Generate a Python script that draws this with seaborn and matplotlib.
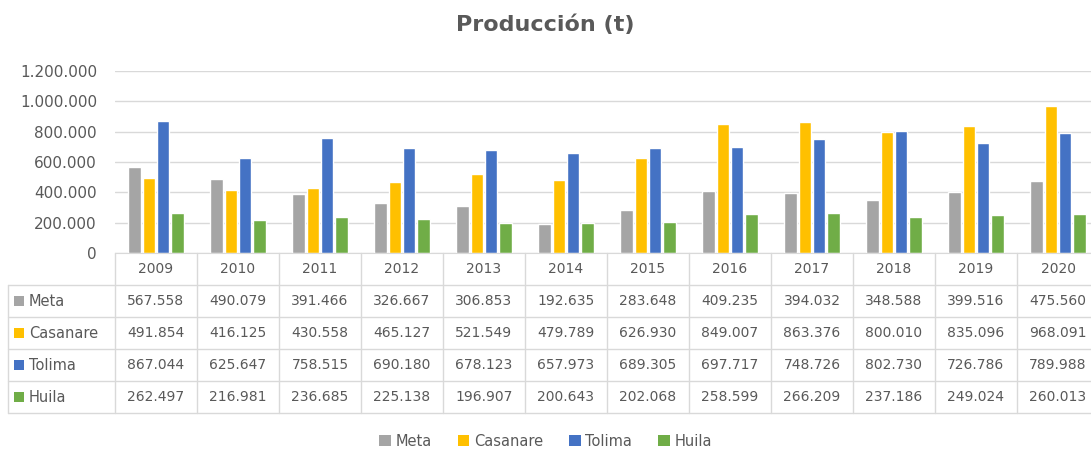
import numpy as np
import pandas as pd
import matplotlib
matplotlib.use('Agg')
import matplotlib.pyplot as plt
import matplotlib.transforms as mtransforms
from matplotlib.patches import Patch, Rectangle
from matplotlib.lines import Line2D
from matplotlib.ticker import FuncFormatter
import seaborn as sns

years = ['2009', '2010', '2011', '2012', '2013', '2014',
         '2015', '2016', '2017', '2018', '2019', '2020']
regions = ['Meta', 'Casanare', 'Tolima', 'Huila']
meta = [567558, 490079, 391466, 326667, 306853, 192635,
        283648, 409235, 394032, 348588, 399516, 475560]
casanare = [491854, 416125, 430558, 465127, 521549, 479789,
            626930, 849007, 863376, 800010, 835096, 968091]
tolima = [867044, 625647, 758515, 690180, 678123, 657973,
          689305, 697717, 748726, 802730, 726786, 789988]
huila = [262497, 216981, 236685, 225138, 196907, 200643,
         202068, 258599, 266209, 237186, 249024, 260013]
y_ticks = [0, 200000, 400000, 600000, 800000, 1000000, 1200000]

colors = ['#A5A5A5', '#FFC000', '#4472C4', '#70AD47']
text_col = '#595959'
grid_col = '#D9D9D9'

series = [meta, casanare, tolima, huila]
df = pd.DataFrame({
    'year': np.tile(years, len(regions)),
    'region': np.repeat(regions, len(years)),
    'value': np.concatenate(series),
})


def fmt_num(v):
    return f"{int(v):,}".replace(',', '.')


sns.set_style('white')
plt.rcParams['font.family'] = ['DejaVu Sans']

W, H = 1091, 453
fig = plt.figure(figsize=(W / 100, H / 100), dpi=100)

# plot area in pixels (right edge runs past the picture as in the reference)
left_px, right_px, top_px, base_px = 115, 1099, 71, 253
ax = fig.add_axes([left_px / W, 1 - base_px / H,
                   (right_px - left_px) / W, (base_px - top_px) / H])

sns.barplot(data=df, x='year', y='value', hue='region', hue_order=regions,
            palette=colors, width=0.7, gap=0.12, saturation=1,
            legend=False, ax=ax, errorbar=None)

ax.set_xlim(-0.5, len(years) - 0.5)
ax.set_ylim(0, 1200000)
ax.set_yticks(y_ticks)
ax.yaxis.set_major_formatter(FuncFormatter(lambda v, p: fmt_num(v)))
ax.tick_params(axis='y', length=0, labelsize=11, labelcolor=text_col, pad=13)
ax.set_xticks([])
ax.set_xlabel('')
ax.set_ylabel('')
ax.grid(axis='y', color=grid_col, linewidth=1)
ax.set_axisbelow(True)
for s in ['top', 'right', 'left']:
    ax.spines[s].set_visible(False)
ax.spines['bottom'].set_color(grid_col)

fig.suptitle('Producción (t)', x=0.5, y=1 - 25 / H, va='center',
             fontsize=16, fontweight='bold', color=text_col)

# data table below the plot
tr = mtransforms.blended_transform_factory(ax.transData, fig.transFigure)
row_h = 32
rows_top = base_px
n_rows = len(regions) + 1


def fy(px):
    return 1 - px / H


# horizontal lines
for i in range(1, n_rows + 1):
    y = fy(rows_top + i * row_h)
    fig.add_artist(Line2D([8 / W, right_px / W], [y, y], color=grid_col,
                          lw=1, transform=fig.transFigure))
# vertical lines
for j in range(len(years) + 1):
    x = j - 0.5
    fig.add_artist(Line2D([x, x], [fy(rows_top), fy(rows_top + n_rows * row_h)],
                          color=grid_col, lw=1, transform=tr))
fig.add_artist(Line2D([8 / W, 8 / W],
                      [fy(rows_top + row_h), fy(rows_top + n_rows * row_h)],
                      color=grid_col, lw=1, transform=fig.transFigure))

# header row
for j, yr in enumerate(years):
    fig.text(j, fy(rows_top + row_h / 2), yr, transform=tr, ha='center',
             va='center', fontsize=10, color=text_col)

# value rows
for i, (name, vals, c) in enumerate(zip(regions, series, colors)):
    yc = fy(rows_top + (i + 1.5) * row_h)
    fig.add_artist(Rectangle((14 / W, yc - 5 / H), 10 / W, 10 / H,
                             facecolor=c, edgecolor='none',
                             transform=fig.transFigure))
    fig.text(29 / W, yc, name, ha='left', va='center', fontsize=10.5,
             color=text_col)
    for j, v in enumerate(vals):
        fig.text(j, yc, fmt_num(v), transform=tr, ha='center', va='center',
                 fontsize=10, color=text_col)

# legend
handles = [Patch(facecolor=c, edgecolor='none', label=r)
           for r, c in zip(regions, colors)]
leg = fig.legend(handles=handles, loc='center', bbox_to_anchor=(0.5, fy(441)),
                 ncol=4, frameon=False, fontsize=10.5, handlelength=0.8,
                 handleheight=0.8, handletextpad=0.3, columnspacing=1.8)
for t in leg.get_texts():
    t.set_color(text_col)

fig.savefig('out.png', dpi=100)
